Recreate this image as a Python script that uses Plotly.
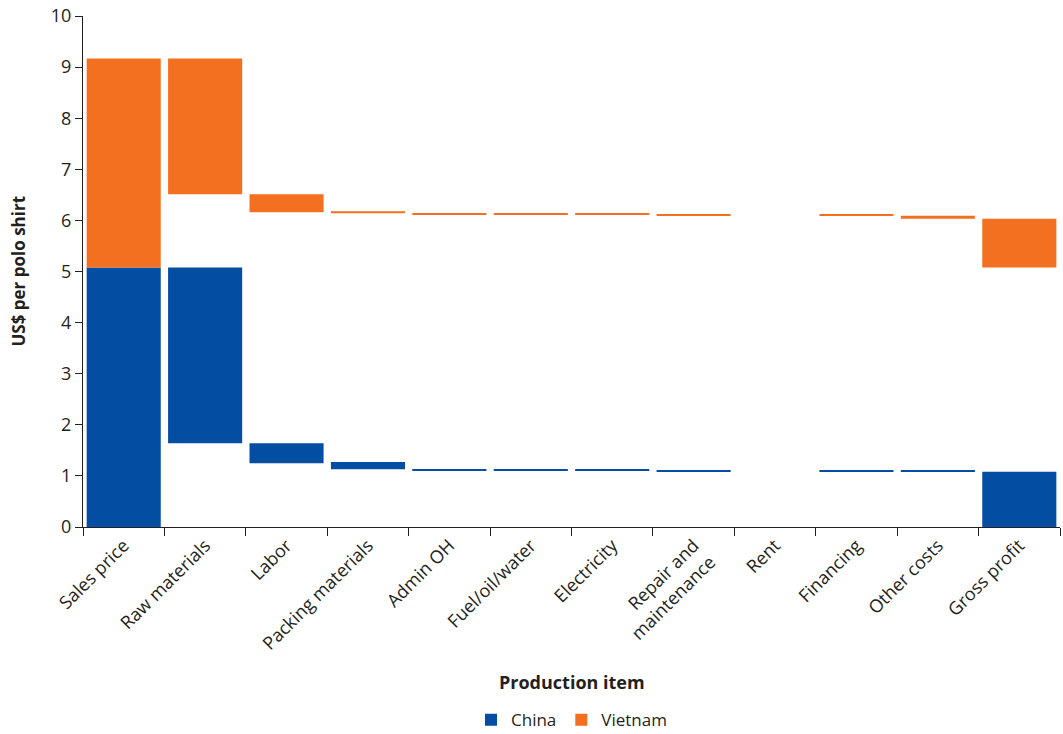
import plotly.graph_objects as go

categories = ["Sales price", "Raw materials", "Labor", "Packing materials", "Admin OH",
              "Fuel/oil/water", "Electricity", "Repair and<br>maintenance", "Rent",
              "Financing", "Other costs", "Gross profit"]

# Floating bar ranges (low, high) in US$ per polo shirt
china_low  = [0.00, 1.64, 1.25, 1.13, 1.10, 1.10, 1.10, 1.08, 0.0, 1.08, 1.08, 0.00]
china_high = [5.08, 5.08, 1.64, 1.27, 1.13, 1.12, 1.12, 1.10, 0.0, 1.10, 1.10, 1.08]

vietnam_low  = [5.08, 6.51, 6.16, 6.14, 6.12, 6.11, 6.11, 6.09, 0.0, 6.09, 6.03, 5.08]
vietnam_high = [9.17, 9.17, 6.51, 6.18, 6.14, 6.13, 6.13, 6.11, 0.0, 6.11, 6.09, 6.03]

BLUE = "#034EA2"
ORANGE = "#F37021"

fig = go.Figure()
fig.add_trace(go.Bar(
    x=categories, base=china_low,
    y=[h - l for h, l in zip(china_high, china_low)],
    name="China", marker=dict(color=BLUE, line=dict(width=0)),
))
fig.add_trace(go.Bar(
    x=categories, base=vietnam_low,
    y=[h - l for h, l in zip(vietnam_high, vietnam_low)],
    name="Vietnam", marker=dict(color=ORANGE, line=dict(width=0)),
))

font_family = "Open Sans, Liberation Sans, sans-serif"
TEXT = "#231F20"
fig.update_layout(
    width=1063, height=734,
    barmode="overlay", bargap=0.09,
    plot_bgcolor="white", paper_bgcolor="white",
    margin=dict(l=83, r=3, t=16, b=207, autoexpand=False),
    font=dict(family=font_family, size=17, color=TEXT),
    showlegend=True,
    legend=dict(orientation="h", x=0.5, xanchor="center", y=-0.378, yanchor="middle",
                font=dict(size=17), traceorder="normal", itemwidth=30),
    xaxis=dict(
        type="category", tickangle=-45, showgrid=False, automargin=False,
        showline=True, linecolor=TEXT, linewidth=1,
        ticks="outside", tickson="boundaries", ticklen=8, tickcolor=TEXT,
        tickfont=dict(size=18),
    ),
    yaxis=dict(
        range=[0, 10], dtick=1, showgrid=False, zeroline=False, automargin=False,
        showline=True, linecolor=TEXT, linewidth=1,
        ticks="outside", ticklen=7, tickcolor=TEXT,
        tickfont=dict(size=18),
    ),
    annotations=[
        dict(text="<b>Production item</b>", xref="paper", yref="paper",
             x=0.5, y=-0.303, xanchor="center", yanchor="middle",
             showarrow=False, font=dict(size=18, color=TEXT)),
        dict(text="<b>US$ per polo shirt</b>", xref="paper", yref="paper",
             x=-0.0665, y=0.5, xanchor="center", yanchor="middle", textangle=-90,
             showarrow=False, font=dict(size=17, color=TEXT)),
    ],
)

fig.write_html(
    "out.html",
    config={"displayModeBar": False},
    post_script="document.body.style.margin='0';document.body.style.overflow='hidden';",
)
